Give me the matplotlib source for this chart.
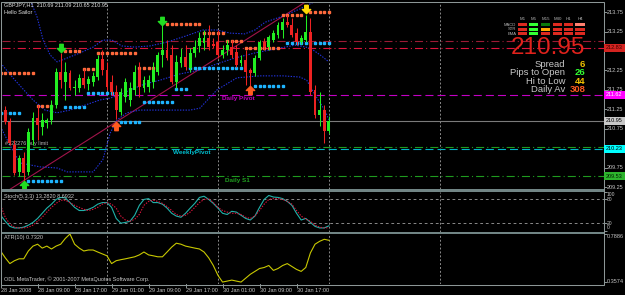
import matplotlib.pyplot as plt
from matplotlib.patches import Rectangle
from matplotlib.path import Path
from matplotlib import font_manager
import numpy as np

plt.rcParams['lines.scale_dashes'] = False

W, H = 625, 295
BG = 'black'
FG = '#c8c8c8'
FRAME = '#8c9696'
SEP = '#718585'
BULL = '#22ee22'
BEAR = '#ee2222'
BAND = '#2233dd'
ARIAL = ['Liberation Sans', 'DejaVu Sans']

# use a narrow face for the tiny MetaTrader labels if one is installed
_names = {f.name for f in font_manager.fontManager.ttflist}
if 'Liberation Sans Narrow' in _names:
    SMALL_FAM, SMALL = ['Liberation Sans Narrow', 'DejaVu Sans'], 5.0
else:
    SMALL_FAM, SMALL = ARIAL, 4.0

# GBPJPY H1, 28 Jan 2008 01:00 .. 31 Jan 00:00 (bar index 0..71)
opens = [211.49, 211.23, 210.92, 210.33, 209.64, 210.00, 209.64, 210.46, 211.03, 210.80,
         210.90, 210.98, 211.36, 212.21, 211.95, 212.18, 211.80, 211.80, 212.06, 211.90,
         211.95, 212.08, 212.54, 212.26, 211.95, 211.70, 211.18, 211.57, 211.49, 211.75,
         212.26, 211.80, 211.82, 211.95, 212.21, 212.65, 212.77, 212.65, 211.95, 212.44,
         212.60, 212.31, 212.70, 212.88, 212.95, 213.08, 212.93, 212.98, 212.65, 212.77,
         212.85, 212.72, 212.44, 212.52, 212.26, 212.18, 212.57, 212.98, 212.85, 213.03,
         213.16, 213.29, 213.49, 213.42, 213.21, 212.98, 213.03, 213.24, 211.75, 211.10,
         211.23, 210.69]
highs = [211.57, 211.34, 211.03, 210.46, 210.08, 210.15, 210.77, 211.18, 211.36, 211.16,
         211.03, 211.49, 212.31, 212.70, 212.47, 212.26, 212.00, 212.16, 212.29, 212.11,
         212.21, 212.65, 212.77, 212.47, 212.13, 211.88, 211.80, 212.06, 211.95, 212.39,
         212.47, 212.11, 212.13, 212.47, 212.72, 213.42, 213.03, 212.90, 212.65, 212.83,
         212.90, 212.83, 213.03, 213.24, 213.29, 213.42, 213.08, 213.29, 212.90, 213.03,
         213.03, 212.90, 212.65, 212.77, 212.31, 212.65, 213.03, 213.08, 213.16, 213.29,
         213.49, 213.60, 213.67, 213.60, 213.34, 213.16, 213.67, 213.60, 211.88, 211.70,
         211.36, 211.09]
lows = [211.13, 210.87, 210.33, 209.56, 209.53, 209.40, 209.56, 210.33, 210.46, 210.59,
        210.77, 210.87, 211.28, 211.80, 211.49, 211.75, 211.62, 211.70, 211.80, 211.75,
        211.85, 212.00, 212.13, 211.75, 211.62, 211.00, 211.10, 211.44, 211.34, 211.62,
        211.57, 211.70, 211.70, 211.80, 212.13, 212.34, 212.52, 211.90, 211.80, 212.34,
        212.26, 212.21, 212.60, 212.72, 212.77, 212.77, 212.83, 212.57, 212.57, 212.65,
        212.57, 212.34, 212.36, 211.88, 211.85, 212.11, 212.52, 212.77, 212.77, 212.98,
        213.08, 213.08, 213.37, 213.11, 212.90, 212.93, 212.98, 211.62, 211.03, 210.82,
        210.39, 210.65]
closes = [211.18, 210.92, 210.39, 209.61, 210.00, 209.61, 210.67, 211.03, 210.85, 210.98,
          210.98, 211.36, 212.21, 212.00, 212.21, 211.80, 211.82, 212.06, 211.88, 212.03,
          212.11, 212.54, 212.26, 211.82, 211.70, 211.23, 211.70, 211.95, 211.80, 212.21,
          211.82, 212.00, 212.00, 212.26, 212.65, 212.77, 212.57, 211.95, 212.47, 212.60,
          212.34, 212.70, 212.85, 213.08, 213.08, 212.85, 212.88, 212.65, 212.77, 212.90,
          212.65, 212.39, 212.52, 212.21, 212.18, 212.57, 212.98, 212.85, 213.11, 213.21,
          213.42, 213.49, 213.42, 213.16, 212.98, 213.08, 213.24, 211.70, 211.10, 211.23,
          210.69, 210.95]

# Bollinger bands as (bar, price)
bb_up_t = [0, 6.4, 7.9, 9.2, 10.7, 12.2, 14.4, 17.2, 20, 22.1, 24.1, 26.2, 29, 32.3, 36,
           39.9, 43.8, 46.8, 49.6, 52.8, 55, 57.2, 61.1, 64.7, 68.6, 71]
bb_up_p = [214.57, 214.06, 213.62, 213.03, 212.65, 212.47, 212.57, 212.70, 212.85, 213.03,
           213.03, 212.88, 212.85, 212.88, 212.98, 213.13, 213.29, 213.29, 213.21, 213.19,
           213.29, 213.49, 213.65, 213.83, 214.06, 214.21]
bb_mid_t = [0, 3.1, 7, 9.6, 12.2, 15, 18.3, 21.5, 23.7, 25.8, 28, 31.2, 34.5, 38.8, 43.1,
            46.8, 50.7, 55, 59.3, 63.7, 66.9, 69.1, 71]
bb_mid_p = [212.44, 212.00, 211.49, 211.23, 211.16, 211.23, 211.36, 211.49, 211.54, 211.62,
            211.75, 211.90, 212.00, 212.16, 212.26, 212.42, 212.57, 212.70, 212.80, 212.90,
            212.83, 212.65, 212.47]
bb_lo_t = [0, 2, 4.2, 8.5, 12.2, 14.4, 20, 22.1, 23.7, 25.2, 27.3, 30.1, 32.3, 41, 43.1,
           46.8, 51.1, 56.1, 61.1, 64.7, 66.2, 68, 70.1, 71]
bb_lo_p = [210.80, 210.33, 209.87, 209.77, 209.74, 209.64, 209.64, 209.95, 210.64, 210.98,
           211.16, 211.23, 211.23, 211.23, 211.28, 211.75, 212.06, 212.11, 212.11, 212.08,
           212.00, 211.62, 211.23, 210.98]

# fractal levels (first bar, last bar, price)
res_levels = [(0, 7, 212.18), (8, 11, 211.34), (14, 17, 212.75), (18, 20, 212.29),
              (21, 29, 212.70), (30, 33, 212.31), (36, 43, 213.44), (44, 48, 213.21),
              (49, 52, 213.01), (53, 60, 212.83), (61, 65, 213.67), (67, 71, 213.75)]
sup_levels = [(0, 4, 211.16), (6, 13, 209.40), (14, 18, 211.31), (19, 24, 211.67),
              (26, 30, 210.92), (31, 37, 211.44), (38, 40, 211.77), (41, 52, 212.31),
              (55, 61, 211.85), (62, 71, 212.95)]

# signal arrows (bar, price, colour)
buy_arrows = [(5, 209.30, '#22dd22'), (25, 210.83, '#ff5a1e'), (54, 211.75, '#ff5a1e')]
sell_arrows = [(13, 212.83, '#22dd22'), (35, 213.52, '#22dd22'), (66, 213.82, '#ffd700')]

trend_t = [1.6, 66.6]
trend_p = [209.16, 214.06]

stoch_main = [40, 25, 12, 8, 8, 10, 15, 22, 32, 45,
              58, 68, 80, 85, 84, 72, 60, 52, 52, 55,
              60, 68, 72, 72, 60, 32, 20, 22, 25, 40,
              65, 80, 82, 72, 72, 68, 58, 45, 38, 35,
              45, 58, 70, 85, 88, 80, 70, 58, 45, 42,
              50, 48, 40, 32, 28, 38, 60, 80, 90, 86,
              85, 82, 75, 65, 45, 28, 32, 22, 12, 8,
              8, 13.28]
stoch_signal = [65, 35, 18, 10, 8, 8, 10, 15, 25, 35,
                48, 60, 70, 78, 78, 72, 65, 60, 55, 52,
                55, 60, 68, 72, 68, 58, 38, 28, 25, 30,
                42, 65, 75, 78, 75, 70, 62, 52, 42, 38,
                40, 48, 60, 72, 80, 82, 72, 60, 52, 48,
                45, 45, 42, 35, 32, 38, 52, 68, 80, 82,
                82, 80, 75, 68, 52, 38, 30, 25, 15, 10,
                8, 8.69]
atr = [0.636, 0.575, 0.523, 0.549, 0.566, 0.566, 0.636, 0.680, 0.697, 0.662,
       0.680, 0.654, 0.680, 0.697, 0.749, 0.7886, 0.697, 0.662, 0.636, 0.645,
       0.645, 0.627, 0.610, 0.593, 0.523, 0.549, 0.558, 0.566, 0.575, 0.584,
       0.601, 0.627, 0.601, 0.593, 0.584, 0.584, 0.627, 0.671, 0.706, 0.697,
       0.680, 0.671, 0.662, 0.654, 0.627, 0.575, 0.506, 0.418, 0.3574, 0.366,
       0.375, 0.366, 0.3574, 0.392, 0.427, 0.453, 0.479, 0.488, 0.506, 0.462,
       0.479, 0.506, 0.523, 0.497, 0.471, 0.453, 0.488, 0.619, 0.697, 0.723,
       0.741, 0.732]

day_breaks = [23, 47, 71, 95]
time_bars = [0, 8, 16, 24, 32, 40, 48, 56, 64]
time_labels = ['28 Jan 2008', '28 Jan 09:00', '28 Jan 17:00', '29 Jan 01:00', '29 Jan 09:00',
               '29 Jan 17:00', '30 Jan 01:00', '30 Jan 09:00', '30 Jan 17:00']
price_ticks = [209.25, 209.75, 210.75, 211.25, 211.75, 212.25, 213.25, 213.75]
stoch_ticks = [0, 20, 80, 100]
atr_ticks = [0.3574, 0.7886]

# horizontal lines: price, colour, style, right-axis box (bg, fg) or None
DASHDOT = (0, (5.8, 2.2, 0.8, 2.2))
DASHED = (0, (5.8, 2.9))
hlines = [
    (213.01, '#9b1b35', DASHDOT, None),
    (212.83, '#dc143c', DASHDOT, ('#d42420', '#3a0000')),
    (211.62, '#c400c4', DASHED, ('#ff00ff', '#ffffff')),
    (210.95, '#7a7a7a', '-', ('#c8c8c8', '#000000')),
    (210.28, '#1f9a1f', DASHDOT, None),
    (210.23, '#00b4c8', DASHED, ('#00ffff', '#000000')),
    (209.53, '#1f9a1f', DASHDOT, ('#2db42d', '#002000')),
]

tf_names = ['M1', 'M5', 'M15', 'M30', 'H1', 'H4']
row_names = ['MACD', 'STR', 'EMA']
RED, LIME, DKG, ORG, PINK = '#dd2a20', '#33ff33', '#0a7a0a', '#ffaa00', '#ff8070'
signal_grid = [[RED, LIME, DKG, RED, RED, PINK],
               [RED, LIME, ORG, RED, RED, RED],
               [RED, LIME, RED, RED, RED, RED]]
info_labels = ['Spread', 'Pips to Open', 'Hi to Low', 'Daily Av']
info_values = ['6', '26', '44', '308']
info_colors = ['#f0c000', '#33ff33', '#f0c000', '#ff5a1e']


def rect(x0, y0, x1, y1):
    return [x0 / W, 1 - y1 / H, (x1 - x0) / W, (y1 - y0) / H]


def fbar(x0, y0, x1, y1, color, z=6):
    fig.add_artist(Rectangle((x0 / W, 1 - y1 / H), (x1 - x0) / W, (y1 - y0) / H,
                             transform=fig.transFigure, facecolor=color,
                             edgecolor='none', zorder=z))


def ftext(x, y, s, **kw):
    # text placed in pixels from the top-left corner
    kw.setdefault('family', SMALL_FAM)
    kw.setdefault('fontsize', SMALL)
    kw.setdefault('color', FG)
    kw.setdefault('va', 'center')
    kw.setdefault('zorder', 9)
    fig.text(x / W, 1 - y / H, s, **kw)


def ypix(a, v):
    return H - a.transData.transform((0, v))[1]


def xpix(a, b):
    return a.transData.transform((b, 0))[0]


up_arrow = Path([(0, 1), (1, 0), (0.42, 0), (0.42, -1), (-0.42, -1), (-0.42, 0), (-1, 0), (0, 1)],
                [1, 2, 2, 2, 2, 2, 2, 79])
down_arrow = Path([(x, -y) for x, y in up_arrow.vertices], up_arrow.codes)

fig = plt.figure(figsize=(W / 100, H / 100), dpi=100, facecolor=BG)
ax = fig.add_axes(rect(2, 2, 604, 189))
ax_st = fig.add_axes(rect(2, 191.5, 604, 231.5))
ax_atr = fig.add_axes(rect(2, 233.5, 604, 284))

for a in (ax, ax_st, ax_atr):
    a.set_facecolor(BG)
    a.set_xlim(0.3, 130.5)
    a.set_xticks([])
    for s in a.spines.values():
        s.set_visible(False)
    a.yaxis.tick_right()
    a.tick_params(axis='y', direction='out', length=2.5, width=0.7, color=FRAME,
                  labelright=False)
    for b in day_breaks:
        a.axvline(b, color='#8a8a8a', lw=0.7, ls=(0, (1.4, 1.4)), zorder=1)

# ---- main price panel ----
ax.set_ylim(209.20, 214.01)
ax.set_yticks(price_ticks)

for p, col, ls, _ in hlines:
    ax.axhline(p, color=col, lw=0.8, ls=ls, zorder=2)

ax.plot(trend_t, trend_p, color='#a0144a', lw=0.8, zorder=3)
for t, p in ((bb_up_t, bb_up_p), (bb_mid_t, bb_mid_p), (bb_lo_t, bb_lo_p)):
    ax.plot(t, p, color=BAND, lw=0.8, ls=(0, (1, 1)), zorder=3)

for b0, b1, p in res_levels:
    bars = np.arange(b0, b1 + 1)
    ax.plot(bars, [p] * len(bars), ls='none', marker='s', ms=1.5, color='#ff6a3c', zorder=3)
for b0, b1, p in sup_levels:
    bars = np.arange(b0, b1 + 1)
    ax.plot(bars, [p] * len(bars), ls='none', marker='s', ms=1.5, color='#1eb4ff', zorder=3)

idx = np.arange(len(closes))
o = np.array(opens)
c = np.array(closes)
cols = np.where(c >= o, BULL, BEAR)
ax.vlines(idx, lows, highs, colors=cols, lw=0.75, zorder=4)
ax.bar(idx, np.maximum(np.abs(c - o), 0.015), bottom=np.minimum(o, c), width=0.62,
       color=cols, linewidth=0, zorder=5)

for b, p, col in buy_arrows:
    ax.plot(b, p, marker=up_arrow, ms=6, color=col, mec=col, zorder=6)
for b, p, col in sell_arrows:
    ax.plot(b, p, marker=down_arrow, ms=6, color=col, mec=col, zorder=6)

ax.text(47.9, 211.52, 'Daily Pivot', color='#c000c0', fontsize=4.6, family=ARIAL,
        va='center', fontweight='bold')
ax.text(37.3, 210.13, 'WeeklyPivot', color='#00c0d0', fontsize=4.6, family=ARIAL,
        va='center', fontweight='bold')
ax.text(48.5, 209.41, 'Daily S1', color='#20a020', fontsize=4.6, family=ARIAL,
        va='center', fontweight='bold')
ax.text(1.0, 210.38, '#122276 buy limit', color='#b4b4b4', fontsize=SMALL,
        family=SMALL_FAM, va='center')

# ---- stochastic ----
ax_st.set_ylim(-1, 100)
ax_st.plot(idx, stoch_main, color='#20b2aa', lw=0.8, zorder=3)
ax_st.plot(idx, stoch_signal, color='#dc143c', lw=0.8, ls=(0, (1, 1)), zorder=3)
for lv in (20, 80):
    ax_st.axhline(lv, color='#8a8a8a', lw=0.7, ls=(0, (2, 2)), zorder=1)
ax_st.set_yticks(stoch_ticks)

# ---- ATR ----
ax_atr.set_ylim(0.340, 0.793)
ax_atr.plot(idx, atr, color='#c8c800', lw=0.8, zorder=3)
ax_atr.set_yticks(atr_ticks)

# right price scale labels
for p in price_ticks:
    ftext(606.5, ypix(ax, p), '%.2f' % p)
for p, col, ls, boxc in hlines:
    if boxc is None:
        continue
    yy = ypix(ax, p)
    fbar(604, yy - 3.8, 625, yy + 3.8, boxc[0], z=8)
    ftext(605.5, yy, '%.2f' % p, color=boxc[1])
for v, lab in zip(stoch_ticks, ['0', '20', '80', '100']):
    yy = min(max(ypix(ax_st, v), 194.5), 227.5)
    ftext(607, yy, lab, fontsize=SMALL * 0.9)
for v in atr_ticks:
    yy = min(max(ypix(ax_atr, v), 237.0), 281.5)
    ftext(606.5, yy, '%.4f' % v)

ftext(4, 196.5, 'Stoch(5,3,3) 13.2820 8.6932')
ftext(4, 238, 'ATR(10) 0.7320')
ftext(4, 279, 'ODL MetaTrader, \u00a9 2001-2007 MetaQuotes Software Corp.')

# time axis
for b, lab in zip(time_bars, time_labels):
    xx = xpix(ax_atr, b)
    ftext(xx + 0.5, 290, lab)
    fig.add_artist(plt.Line2D([xx / W, xx / W], [1 - 284 / H, 1 - 287 / H],
                              transform=fig.transFigure, color=FRAME, lw=0.7))

# frame and panel separators
fbar(2, 189, 604, 191.5, SEP)
fbar(2, 231.5, 604, 233.5, SEP)
fig.add_artist(Rectangle((1.5 / W, 1 - 284.5 / H), 602.5 / W, 283 / H, transform=fig.transFigure,
                         fill=False, edgecolor=FRAME, lw=0.75, zorder=7))

# header
ftext(4, 5, 'GBPJPY,H1  210.69 211.09 210.65 210.95', color='#e0e0e0')
ftext(4, 12.5, 'Hello Sailor', color='#e0e0e0')

# multi-timeframe signal grid
col_x = [522.5, 533.5, 545.5, 557.5, 568.5, 580]
row_y = [23.2, 27.6, 32.0]
for j, name in enumerate(tf_names):
    ftext(col_x[j], 18.5, name, ha='center', fontsize=3.2, color='#b4b4b4')
for r, name in enumerate(row_names):
    ftext(516.5, row_y[r] + 1.6, name, ha='right', fontsize=3.0, color='#b4b4b4')
    for j in range(len(tf_names)):
        fbar(col_x[j] - 4.6, row_y[r], col_x[j] + 4.6, row_y[r] + 3.2, signal_grid[r][j])

ftext(585.5, 48, '210.95', ha='right', fontsize=17.5, family=ARIAL, color='#e0221c')
for k, (lab, val, vc) in enumerate(zip(info_labels, info_values, info_colors)):
    yy = 64.5 + 8.4 * k
    ftext(565, yy, lab, ha='right', fontsize=6.8, family=ARIAL, color='#c8c8c8')
    ftext(585.5, yy, val, ha='right', fontsize=6.8, family=ARIAL, color=vc, fontweight='bold')

fig.savefig('out.png', dpi=100, facecolor=BG)
